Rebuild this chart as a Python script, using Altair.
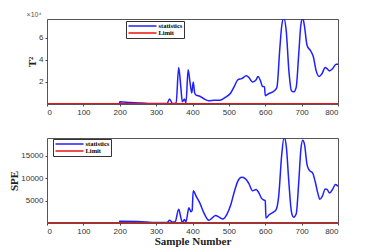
import altair as alt
import pandas as pd

# T^2 statistic (raw units)
t2_x = [0, 50, 100, 150, 199, 200, 230, 260, 300, 330, 337, 345, 355, 362, 368, 372, 378, 382,
        388, 393, 398, 402, 406, 410, 420, 430, 445, 460, 475, 490, 505, 515, 525, 535, 548,
        555, 565, 575, 580, 588, 592, 598, 600, 610, 625, 632, 640, 645, 651, 658, 665, 672,
        678, 685, 692, 698, 703, 708, 715, 725, 732, 740, 748, 755, 765, 770, 777, 785, 795, 800]
t2_y = [100, 100, 100, 100, 100, 2000, 1300, 900, 500, 500, 4500, 500, 1000, 33000, 15000, 2000,
        4500, 1000, 31000, 20000, 10000, 20000, 10000, 8000, 7000, 5000, 3000, 3500, 3500, 6000,
        10000, 16000, 22000, 23000, 25500, 24000, 20000, 22000, 25000, 20000, 16000, 15500, 7500,
        9500, 12000, 15000, 50000, 70000, 78000, 65000, 30000, 12000, 11000, 15000, 45000, 72000,
        78000, 70000, 53000, 48000, 43000, 30000, 25000, 27000, 33000, 32000, 30000, 32000, 36000, 36000]

# SPE statistic
spe_x = [0, 50, 100, 150, 199, 200, 250, 300, 330, 337, 345, 352, 362, 368, 372, 378, 382, 390,
         396, 399, 402, 410, 420, 430, 445, 455, 463, 475, 483, 495, 505, 515, 525, 535, 545, 555,
         565, 575, 582, 590, 597, 600, 602, 610, 620, 630, 637, 645, 652, 658, 665, 672, 678, 685,
         692, 698, 703, 708, 715, 722, 730, 738, 745, 750, 757, 765, 770, 777, 785, 793, 800]
spe_y = [30, 30, 30, 30, 30, 400, 350, 100, 100, 600, 200, 200, 3100, 1200, 100, 800, 200, 3400,
         2500, 2800, 7200, 6000, 4500, 2500, 600, 1200, 1700, 1200, 900, 2000, 4000, 7000, 9400,
         10200, 9900, 8800, 7200, 7500, 6800, 5500, 5100, 5000, 1100, 1800, 2300, 3000, 6000, 15000,
         19200, 17000, 9000, 2500, 1300, 2000, 9000, 16500, 18500, 17500, 13000, 11700, 11200, 9000,
         6500, 5300, 6000, 7600, 7500, 6700, 7500, 8600, 8200]

limit_x = [0, 800]
t2_limit = [300, 300]
spe_limit = [80, 80]

series_names = ["statistics", "Limit"]
series_colors = ["#2020ff", "#ee1111"]


def frame(xs, ys, name):
    return pd.DataFrame({"x": xs, "y": ys, "series": name})


t2_df = pd.concat([frame(t2_x, t2_y, "statistics"), frame(limit_x, t2_limit, "Limit")])
spe_df = pd.concat([frame(spe_x, spe_y, "statistics"), frame(limit_x, spe_limit, "Limit")])

lab_font = "Liberation Sans"
ttl_font = "Liberation Serif"

xscale = alt.Scale(domain=[0, 800], nice=False)


def panel(df, ytitle, ymax, yticks, label_expr, legend_x, legend_y, xtitle):
    color = alt.Color(
        "series:N",
        scale=alt.Scale(domain=series_names, range=series_colors),
        sort=series_names,
        legend=alt.Legend(title=None, orient="none", legendX=legend_x, legendY=legend_y,
                          symbolType="stroke", symbolSize=784, symbolStrokeWidth=1.5,
                          clipHeight=7,
                          labelFont=ttl_font, labelFontWeight="bold", labelFontSize=6.5,
                          labelColor="black", fillColor="white", strokeColor="#333333",
                          padding=1.5, rowPadding=0, labelOffset=1),
    )
    xaxis = alt.Axis(values=list(range(0, 801, 100)), title=xtitle, grid=False,
                     labelFont=lab_font, labelFontSize=8, labelColor="#333333",
                     tickSize=2, tickColor="#444444", domain=False, labelPadding=2,
                     titleFont=ttl_font, titleFontSize=11, titleFontWeight="bold",
                     titleColor="#222222", titlePadding=0)
    yaxis = alt.Axis(values=yticks, title=ytitle, grid=False, labelExpr=label_expr,
                     labelFont=lab_font, labelFontSize=8, labelColor="#333333",
                     tickSize=2, tickColor="#444444", domain=False, labelPadding=2,
                     titleFont=ttl_font, titleFontSize=11, titleFontWeight="bold",
                     titleColor="#222222", titlePadding=1)
    return alt.Chart(df).mark_line(interpolate="monotone", strokeWidth=1.5, clip=True).encode(
        x=alt.X("x:Q", scale=xscale, axis=xaxis),
        y=alt.Y("y:Q", scale=alt.Scale(domain=[0, ymax], nice=False), axis=yaxis),
        color=color,
        detail="series:N",
    ).properties(width=291, height=85)


top = panel(t2_df, "T²", 77000, [20000, 40000, 60000], "datum.value / 10000",
            79, 2, None).properties(
    title=alt.TitleParams("×10⁴", anchor="start", fontSize=7, color="#555555",
                          font=lab_font, fontWeight="normal", offset=1))
bottom = panel(spe_df, "SPE", 19000, [5000, 10000, 15000], "format(datum.value, 'd')",
               6, 1, "Sample Number")

chart = alt.vconcat(top, bottom, spacing=20).resolve_legend(color="independent").configure_view(
    stroke="#555555", strokeWidth=1
).properties(padding={"left": 0, "top": 2, "right": 5, "bottom": 2})

chart.save("out.html", embed_options={"renderer": "svg", "actions": False})
